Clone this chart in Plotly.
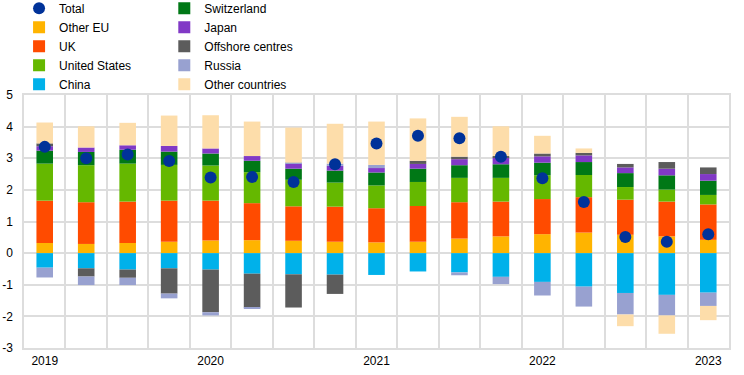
import plotly.graph_objects as go

quarters = list(range(17))
year_ticks = [0, 4, 8, 12, 16]
year_labels = ["2019", "2020", "2021", "2022", "2023"]

other_eu = [0.32, 0.29, 0.32, 0.36, 0.40, 0.41, 0.39, 0.36, 0.34, 0.36, 0.46, 0.53, 0.60, 0.65, 0.58, 0.53, 0.42]
uk = [1.34, 1.32, 1.31, 1.30, 1.26, 1.17, 1.09, 1.11, 1.08, 1.13, 1.15, 1.10, 1.11, 1.12, 1.11, 1.10, 1.12]
united_states = [1.17, 1.17, 1.20, 1.13, 1.11, 0.98, 0.84, 0.76, 0.72, 0.76, 0.77, 0.75, 0.75, 0.70, 0.40, 0.38, 0.30]
china = [-0.46, -0.48, -0.52, -0.48, -0.52, -0.65, -0.67, -0.68, -0.69, -0.58, -0.61, -0.75, -0.91, -1.06, -1.26, -1.32, -1.25]
switzerland = [0.41, 0.42, 0.44, 0.42, 0.38, 0.36, 0.35, 0.38, 0.41, 0.42, 0.40, 0.43, 0.40, 0.41, 0.44, 0.45, 0.45]
japan = [0.14, 0.14, 0.14, 0.18, 0.16, 0.15, 0.16, 0.15, 0.14, 0.15, 0.19, 0.21, 0.20, 0.21, 0.18, 0.21, 0.21]
offshore = [0.09, -0.26, -0.26, -0.80, -1.35, -1.07, -1.05, -0.61, 0.00, 0.10, 0.08, 0.05, 0.09, 0.08, 0.11, 0.21, 0.21]
russia = [-0.31, -0.27, -0.23, -0.15, -0.10, -0.02, 0.03, 0.07, 0.10, 0.00, -0.09, -0.23, -0.43, -0.63, -0.68, -0.65, -0.42]
other_countries = [0.66, 0.67, 0.71, 0.96, 1.05, 1.09, 1.11, 1.26, 1.37, 1.34, 1.26, 0.94, 0.56, 0.14, -0.37, -0.58, -0.45]
total = [3.36, 3.00, 3.12, 2.91, 2.39, 2.41, 2.25, 2.81, 3.47, 3.71, 3.63, 3.05, 2.37, 1.62, 0.51, 0.36, 0.60]

series = [
    ("Other EU", other_eu, "#ffb400", "legend"),
    ("UK", uk, "#ff4b00", "legend"),
    ("United States", united_states, "#65b800", "legend"),
    ("China", china, "#00b1ea", "legend"),
    ("Switzerland", switzerland, "#007816", "legend2"),
    ("Japan", japan, "#8139c6", "legend2"),
    ("Offshore centres", offshore, "#5c5c5c", "legend2"),
    ("Russia", russia, "#98a1d0", "legend2"),
    ("Other countries", other_countries, "#fdddaa", "legend2"),
]

fig = go.Figure()
for i, (name, vals, color, leg) in enumerate(series):
    fig.add_trace(go.Bar(x=quarters, y=vals, name=name, marker=dict(color=color, line=dict(width=0)),
                         width=0.4, legend=leg, legendrank=i + 2))
fig.add_trace(go.Scatter(x=quarters, y=total, mode="markers", name="Total",
                         marker=dict(color="#003299", size=12), legend="legend",
                         legendrank=1))

grid = "#dddddd"
yt = list(range(-3, 6))
leg_common = dict(yref="paper", y=1.40, xanchor="left", yanchor="top", orientation="v",
                  bgcolor="rgba(0,0,0,0)", font=dict(size=12), itemsizing="constant",
                  tracegroupgap=0)
fig.update_layout(
    width=744, height=375,
    barmode="relative",
    plot_bgcolor="white", paper_bgcolor="white",
    margin=dict(l=24, r=15, t=95, b=27, autoexpand=False),
    font=dict(family="Liberation Sans, Arial", size=12, color="#000000"),
    legend=dict(x=-0.007, **leg_common),
    legend2=dict(x=0.199, **leg_common),
    xaxis=dict(range=[-0.5, 16.5], tickvals=year_ticks, ticktext=year_labels,
               showgrid=False, zeroline=False, ticks="", ticklabelstandoff=1,
               showline=True, linecolor=grid, linewidth=1.5, mirror=True,
               minor=dict(tick0=0.5, dtick=1, showgrid=True, gridcolor=grid, gridwidth=1.5)),
    yaxis=dict(range=[-3, 5], tickvals=yt, ticktext=[str(v) for v in yt],
               showgrid=True, gridcolor=grid, gridwidth=1.5, zeroline=False, ticks="",
               ticklabelstandoff=7,
               showline=True, linecolor=grid, linewidth=1.5, mirror=True),
)
fig.write_html("out.html", config={"displayModeBar": False},
               post_script="document.body.style.margin='0px';")
